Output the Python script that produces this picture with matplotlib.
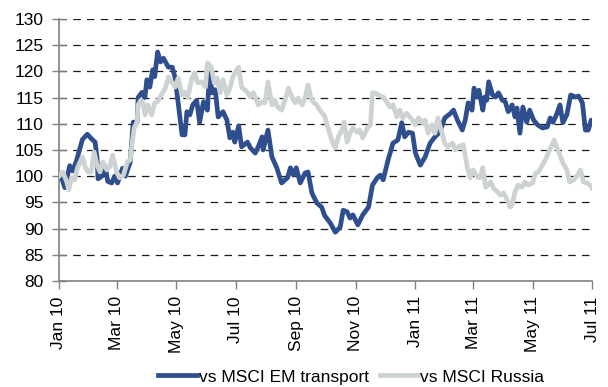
import matplotlib
matplotlib.use("Agg")
import matplotlib.pyplot as plt
import matplotlib.dates as mdates
import pandas as pd

# relative performance, rebased to 100 at the start of 2010
start = pd.Timestamp("2010-01-01")

em_days = [
    0, 3, 6, 11, 14, 18, 24, 29, 34, 37, 39, 40, 44, 47, 50, 54, 57, 60, 65, 68,
    73, 76, 80, 81, 85, 88, 90, 93, 96, 98, 101, 104, 107, 112, 116, 119, 122, 126, 129, 131,
    134, 137, 141, 144, 148, 152, 154, 157, 160, 163, 168, 172, 175, 178, 180, 184, 187, 193, 196, 201,
    204, 208, 209, 214, 218, 223, 228, 234, 237, 240, 243, 247, 252, 255, 259, 264, 269, 272, 278, 283,
    288, 291, 295, 298, 301, 306, 311, 317, 321, 326, 329, 332, 337, 342, 347, 351, 354, 358, 362, 365,
    370, 375, 380, 385, 390, 395, 401, 404, 408, 413, 416, 419, 423, 425, 428, 430, 434, 436, 438, 440,
    444, 447, 450, 454, 457, 460, 464, 467, 469, 472, 475, 479, 482, 486, 490, 495, 500, 503, 506, 510,
    513, 516, 520, 524, 529, 532, 536, 539, 542, 545, 546,
]
em_transport = [
    100, 99.5, 97.8, 102, 101, 103, 107, 108, 107, 106.5, 103.5, 99.5, 100, 102, 99, 98.7, 100, 98.7, 101.5, 100,
    102.7, 110.3, 110.3, 115, 116, 115, 118.4, 117, 120.3, 119, 123.7, 121.8, 122.5, 120.8, 120.8, 118.7, 114, 107.9, 107.9, 112.3,
    111.7, 113.6, 114.5, 110.3, 114.2, 112.6, 119.7, 115.9, 116.5, 111.3, 112.3, 110.7, 107.3, 108.4, 106.5, 109.6, 105.6, 106.5, 105.4, 104.4,
    105.6, 107.5, 105, 108.8, 103.7, 101.6, 98.7, 99.7, 101.6, 100.2, 101.6, 98.7, 100.6, 100.8, 96.8, 94.9, 94.1, 92.5, 91, 89.3,
    90.3, 93.5, 93.2, 92, 92.6, 90.7, 92.6, 94.1, 98.3, 99.7, 100.2, 99.3, 103.1, 106.3, 106.9, 110.2, 107.5, 108.4, 108.2, 104.4,
    102.1, 103.7, 106.3, 107.5, 108.4, 111.1, 112, 112.6, 110.7, 108.8, 110.7, 114, 112.6, 116.8, 115.1, 116.4, 112.6, 115.1, 114.5, 118,
    115.5, 115.1, 115.9, 114.5, 114.2, 112.3, 113.6, 111.3, 113, 108.2, 113.2, 110.3, 112.6, 110.7, 109.8, 109.2, 109.4, 111.1, 110.3, 112,
    113.6, 110.2, 111.7, 115.5, 115.1, 115.3, 114, 108.8, 108.8, 110.7, 110.2,
]

ru_days = [
    0, 4, 8, 10, 13, 16, 19, 24, 27, 30, 33, 36, 39, 42, 45, 49, 52, 55, 59, 62,
    66, 70, 73, 75, 77, 80, 81, 84, 86, 88, 91, 95, 98, 101, 106, 109, 112, 116, 119, 122,
    126, 129, 132, 136, 139, 142, 146, 150, 152, 156, 159, 162, 165, 168, 172, 175, 178, 182, 184, 187,
    193, 196, 199, 204, 208, 211, 214, 218, 221, 224, 228, 232, 235, 239, 242, 245, 249, 252, 255, 258,
    261, 264, 267, 272, 275, 280, 283, 286, 290, 292, 295, 298, 301, 305, 308, 311, 316, 319, 321, 324,
    327, 332, 336, 339, 342, 346, 349, 352, 356, 362, 365, 368, 372, 375, 378, 382, 385, 388, 392, 395,
    398, 403, 406, 409, 414, 418, 421, 424, 428, 431, 434, 437, 442, 445, 449, 452, 455, 459, 462, 464,
    467, 470, 474, 477, 480, 485, 488, 491, 495, 498, 501, 505, 507, 510, 513, 516, 520, 523, 527, 531,
    534, 537, 541, 544, 546,
]
msci_russia = [
    100, 100.8, 98.9, 97.4, 99.7, 99.3, 101.6, 103.7, 101.6, 100.8, 100.8, 104.6, 102.1, 100.8, 102.7, 101.2, 101.8, 104, 100.8, 99.7,
    100.2, 102.7, 103.1, 106.5, 109.2, 110.3, 113.6, 114.5, 114, 111.7, 113.6, 111.7, 114, 114.2, 115.9, 116.8, 118.9, 117.8, 117, 118.7,
    115.5, 116, 115, 118.7, 119.7, 117.8, 118, 117, 121.6, 120.8, 117.8, 118.7, 115.9, 118.4, 115.5, 116.8, 118.9, 120.3, 120.8, 117,
    116, 115.1, 115.9, 113.6, 114.2, 114, 118, 113.6, 114.5, 113.2, 112.6, 114.9, 116.8, 114.9, 114, 114.9, 113.6, 114.9, 117.4, 114.9,
    114, 113.6, 112.6, 111.5, 109.5, 106.5, 105.4, 107.5, 108.8, 110.3, 106.5, 108.2, 109.2, 108.4, 108.8, 107.3, 109.2, 109.8, 115.9, 115.9,
    115.5, 115.1, 114, 113.2, 113.6, 111.3, 112.6, 111.1, 112, 110.7, 109.8, 111.1, 110.2, 110.7, 108.2, 109.8, 108.2, 111.1, 108.4, 106.3,
    105.6, 106.3, 105, 105.6, 106, 101.8, 99.7, 101.2, 99.9, 99.7, 101.6, 97.9, 98.9, 97.7, 97, 96.4, 96.8, 95.5, 94.1, 94.5,
    97, 98.3, 97.9, 98.9, 98.3, 98.7, 100.6, 100.8, 102.1, 103.1, 104.4, 106, 106.9, 105.4, 104, 102.5, 101.2, 98.9, 99.3, 100.2,
    101.2, 98.9, 98.7, 98.3, 97.7,
]

em_dates = start + pd.to_timedelta(em_days, unit="D")
ru_dates = start + pd.to_timedelta(ru_days, unit="D")

plt.rcParams["font.family"] = ["Liberation Sans", "DejaVu Sans"]

fig = plt.figure(figsize=(6.08, 3.87), dpi=100)
ax = fig.add_axes([0.097, 0.274, 0.877, 0.677])

blue = "#2e4e8e"
grey = "#cdd3d3"
ax.plot(em_dates, em_transport, color=blue, linewidth=3.4, solid_joinstyle="round",
        label="vs MSCI EM transport", zorder=3)
ax.plot(ru_dates, msci_russia, color=grey, linewidth=3.4, solid_joinstyle="round",
        label="vs MSCI Russia", zorder=4)

ax.set_ylim(80, 130)
ax.set_yticks(range(80, 131, 5))
ax.set_xlim(pd.Timestamp("2010-01-01"), pd.Timestamp("2011-07-01"))
ax.xaxis.set_major_locator(mdates.MonthLocator(bymonth=[1, 3, 5, 7, 9, 11]))
ax.xaxis.set_major_formatter(mdates.DateFormatter("%b %y"))

for y in range(85, 131, 5):
    ax.axhline(y, color="#1a1a1a", linewidth=0.9, linestyle=(0, (6, 5)), zorder=1)

for side in ("top", "right"):
    ax.spines[side].set_visible(False)
for side in ("left", "bottom"):
    ax.spines[side].set_color("#808080")
    ax.spines[side].set_linewidth(1.2)

ax.tick_params(axis="y", direction="inout", length=10, width=1, color="#808080",
               labelsize=12.5, pad=6)
ax.tick_params(axis="x", direction="out", length=6, width=1, color="#808080",
               labelsize=12.5, pad=5, labelrotation=90)

fig.legend(loc="center", bbox_to_anchor=(0.578, 0.026), ncol=2, frameon=False,
           fontsize=12.5, handlelength=2.2, handletextpad=0.15, columnspacing=0.6,
           borderaxespad=0)

fig.savefig("out.png", dpi=100)
